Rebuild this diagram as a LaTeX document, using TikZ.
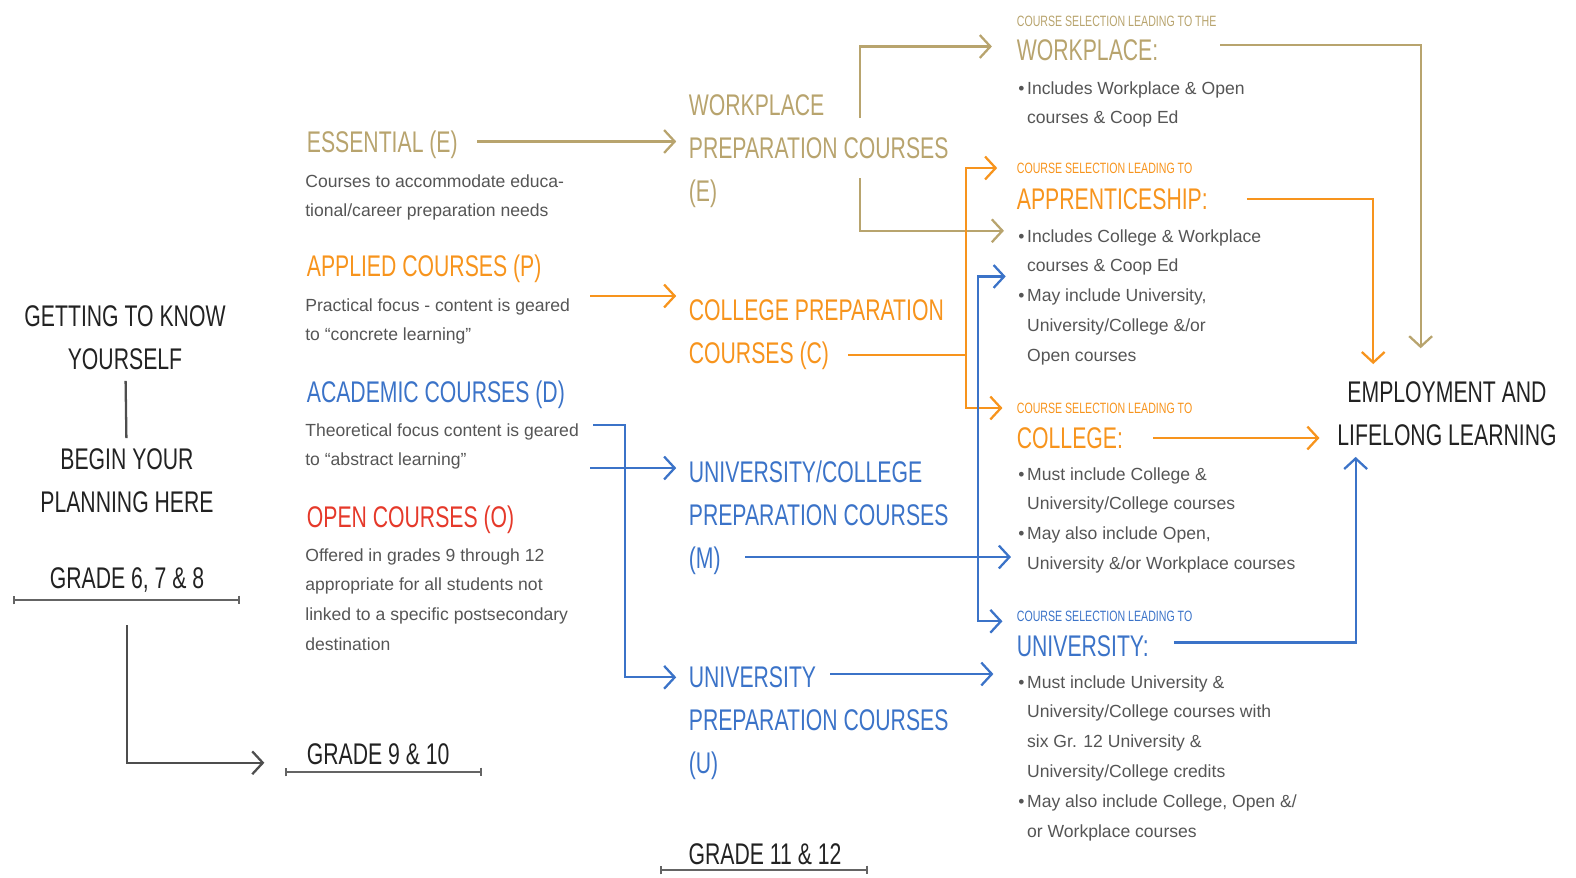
\documentclass[tikz,border=0pt]{standalone}
\usepackage{fontspec}
\setmainfont{Liberation Sans}
\newfontfamily\handfont[FakeStretch=0.71]{Liberation Sans}
\usetikzlibrary{arrows.meta, positioning}

\definecolor{gold}{HTML}{B8A46E}
\definecolor{tangerine}{HTML}{F7941D}
\definecolor{cobalt}{HTML}{3B73C8}
\definecolor{scarlet}{HTML}{E5392A}
\definecolor{ink}{HTML}{222222}
\definecolor{bodygrey}{HTML}{555555}

\newcommand{\bul}{\makebox[5pt][l]{•}}
\newcommand{\ind}{\hspace*{5pt}}

\begin{document}
\begin{tikzpicture}[
        x=0.02cm, y=-0.02cm,
        head/.style={font=\handfont\fontsize{17}{24.4}\selectfont, align=left, inner sep=2pt},
        subhead/.style={font=\handfont\fontsize{8.5}{10}\selectfont, inner sep=2pt, anchor=west},
        body/.style={font=\fontsize{10}{17}\selectfont, text=bodygrey, align=left, inner sep=0pt, anchor=north west},
        arr/.style={line width=1.3pt, -{Straight Barb[length=6pt,width=13pt]}, shorten >=5pt},
        link/.style={line width=1.3pt},
        gradebar/.style={line width=1pt, draw=ink!70, {Bar[width=5pt]}-{Bar[width=5pt]}}
    ]
        \useasboundingbox (0,0) rectangle (1576,877);

        % Start
        \node[head, text=ink, align=center] (know) at (125,338) {GETTING TO KNOW\\YOURSELF};
        \node[head, text=ink, align=center] (begin) at (127,481) {BEGIN YOUR\\PLANNING HERE};
        \node[head, text=ink] (g68) at (127,580) {GRADE 6, 7 \& 8};
        \node[head, text=ink, anchor=west] (g910) at (303,754) {GRADE 9 \& 10};
        \node[head, text=ink] (g1112) at (765,854) {GRADE 11 \& 12};

        % Grade 9 & 10 course types
        \node[head, text=gold, anchor=west] (ess) at (303,145) {ESSENTIAL (E)};
        \node[body] (essTxt) at (305,174) {Courses to accommodate educa-\\tional/career preparation needs};
        \node[head, text=tangerine, anchor=west] (app) at (303,269) {APPLIED COURSES (P)};
        \node[body] (appTxt) at (305,298) {Practical focus - content is geared\\to “concrete learning”};
        \node[head, text=cobalt, anchor=west] (acad) at (303,395) {ACADEMIC COURSES (D)};
        \node[body] (acadTxt) at (305,423) {Theoretical focus content is geared\\to “abstract learning”};
        \node[head, text=scarlet, anchor=west] (open) at (303,520) {OPEN COURSES (O)};
        \node[body] (openTxt) at (305,548) {Offered in grades 9 through 12\\appropriate for all students not\\linked to a specific postsecondary\\destination};

        % Grade 11 & 12 courses
        \node[head, text=gold, anchor=west] (wpc) at (685,151) {WORKPLACE\\PREPARATION COURSES\\(E)};
        \node[head, text=tangerine, anchor=west] (cpc) at (685,335) {COLLEGE PREPARATION\\COURSES (C)};
        \node[head, text=cobalt, anchor=west] (ucpc) at (685,518) {UNIVERSITY/COLLEGE\\PREPARATION COURSES\\(M)};
        \node[head, text=cobalt, anchor=west] (upc) at (685,723) {UNIVERSITY\\PREPARATION COURSES\\(U)};

        % Destinations
        \node[subhead, text=gold] (wrkSub) at (1013,21) {COURSE SELECTION LEADING TO THE};
        \node[head, text=gold, anchor=west] (wrk) at (1013,50) {WORKPLACE:};
        \node[body] (wrkTxt) at (1018,81) {\bul Includes Workplace \& Open\\\ind courses \& Coop Ed};

        \node[subhead, text=tangerine] (apprSub) at (1013,168) {COURSE SELECTION LEADING TO};
        \node[head, text=tangerine, anchor=west] (appr) at (1013,199) {APPRENTICESHIP:};
        \node[body] (apprTxt) at (1018,229) {\bul Includes College \& Workplace\\\ind courses \& Coop Ed\\\bul May include University,\\\ind University/College \&/or\\\ind Open courses};

        \node[subhead, text=tangerine] (colSub) at (1013,408) {COURSE SELECTION LEADING TO};
        \node[head, text=tangerine, anchor=west] (col) at (1013,438) {COLLEGE:};
        \node[body] (colTxt) at (1018,467) {\bul Must include College \&\\\ind University/College courses\\\bul May also include Open,\\\ind University \&/or Workplace courses};

        \node[subhead, text=cobalt] (uniSub) at (1013,616) {COURSE SELECTION LEADING TO};
        \node[head, text=cobalt, anchor=west] (uni) at (1013,646) {UNIVERSITY:};
        \node[body] (uniTxt) at (1018,675) {\bul Must include University \&\\\ind University/College courses with\\\ind six Gr. 12 University \&\\\ind University/College credits\\\bul May also include College, Open \&/\\\ind or Workplace courses};

        \node[head, text=ink, align=center] (emp) at (1447,414) {EMPLOYMENT AND\\LIFELONG LEARNING};

        % Grade bars
        \draw[gradebar] (13,600) -- (240,600);
        \draw[gradebar] (285,772) -- (482,772);
        \draw[gradebar] (660,870) -- (868,870);

        % Start arrows
        \coordinate (g68foot) at (127,625);
        \draw[link, ink!80, shorten <=4pt, shorten >=4pt] (know) -- (begin);
        \draw[arr, ink!80] (g68foot) |- ([xshift=-17pt,yshift=-5pt]g910.west);

        % Grade 9/10 to grade 11/12
        \coordinate (appOut) at (590,296);
        \coordinate (acadOut) at (590,468);
        \coordinate (acadTop) at (593,425);
        \coordinate (acadBend) at (625,425);
        \draw[arr, gold, shorten <=9pt] ([yshift=2pt]ess.east) -- ([yshift=2pt]ess.east -| wpc.west);
        \draw[arr, tangerine] (appOut) -- (appOut -| cpc.west);
        \draw[arr, cobalt] (acadOut) -- (acadOut -| ucpc.west);
        \draw[arr, cobalt] (acadTop) -- (acadBend) |- ([yshift=26pt]upc.west);

        % Grade 11/12 to destinations
        \coordinate (wpcUp) at (860,118);
        \coordinate (wpcDown) at (860,178);
        \coordinate (cpcOut) at (848,355);
        \coordinate (cpcJoin) at (966,355);
        \coordinate (ucpcOut) at (745,557);
        \coordinate (ucpcJoin) at (978,557);
        \coordinate (upcOut) at (830,674);
        \draw[arr, gold, shorten >=12pt] (wpcUp) |- ([yshift=2pt]wrk.west);
        \draw[arr, gold, shorten >=8pt] (wpcDown) |- ([yshift=-1pt]apprTxt.north west);
        \draw[link, tangerine] (cpcOut) -- (cpcJoin);
        \draw[arr, tangerine, shorten >=9pt] (cpcJoin) |- (apprSub.west);
        \draw[arr, tangerine, shorten >=6pt] (cpcJoin) |- (colSub.west);
        \draw[arr, cobalt, shorten >=4pt] (ucpcOut) -- (ucpcOut -| colTxt.west);
        \draw[arr, cobalt, shorten >=7pt] (ucpcJoin) |- ([yshift=-27pt]apprTxt.north west);
        \draw[arr, cobalt, shorten >=6pt] (ucpcJoin) |- ([yshift=-3pt]uniSub.west);
        \draw[arr, cobalt, shorten >=14pt] (upcOut) -- (upcOut -| uniTxt.west);

        % Destinations to employment
        \draw[arr, gold, shorten >=17pt] ([xshift=33pt,yshift=3pt]wrk.east) -| ([xshift=-15pt]emp.north);
        \draw[arr, tangerine, shorten >=8pt] ([xshift=20pt]appr.east) -| ([xshift=-42pt]emp.north);
        \draw[arr, tangerine, shorten <=15pt, shorten >=8pt] (col.east) -- (col.east -| emp.west);
        \draw[arr, cobalt, shorten >=4pt] ([xshift=12pt,yshift=2pt]uni.east) -| ([xshift=-52pt]emp.south);

    \end{tikzpicture}
\end{document}
